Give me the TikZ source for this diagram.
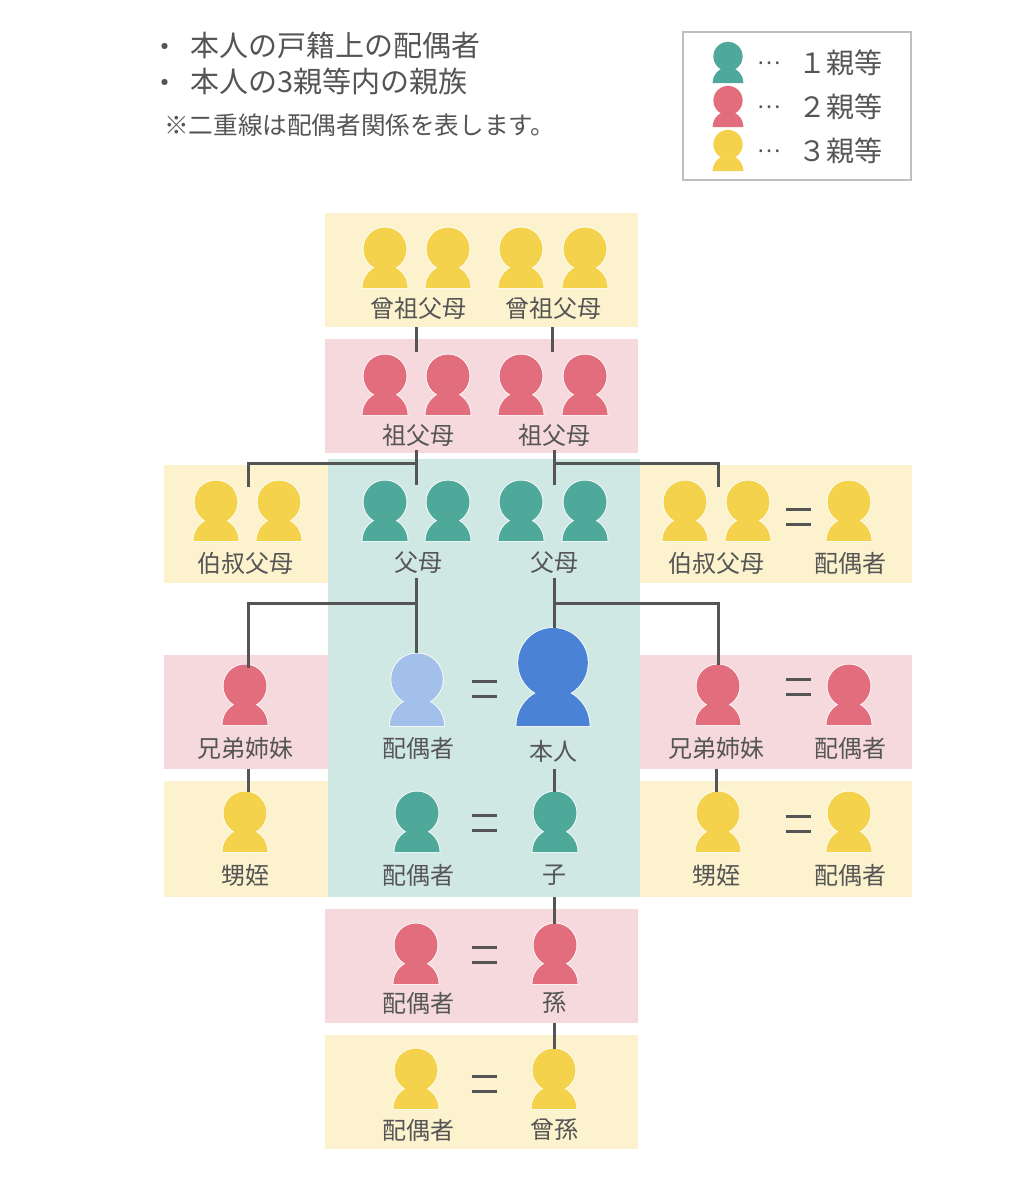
\documentclass[tikz,border=0pt]{standalone}
\usepackage{fontspec}
\setmainfont{Noto Sans CJK JP}
\usepackage{xcolor}
\definecolor{Teal}{HTML}{4FA99B}
\definecolor{Rose}{HTML}{E26D7D}
\definecolor{Amber}{HTML}{F5D24B}
\definecolor{SelfBlue}{HTML}{4A82D6}
\definecolor{SpouseBlue}{HTML}{A3C0EA}
\definecolor{LiteTeal}{HTML}{CFE8E4}
\definecolor{LiteRose}{HTML}{F5D9DD}
\definecolor{LiteAmber}{HTML}{FCF2CD}
\definecolor{Ink}{HTML}{555555}
\tikzset{%
  band/.style={%
    rectangle,%
    inner sep=0,%
    outer sep=0,%
  },
  name_label/.style={%
    color=Ink,%
    inner sep=0,%
    minimum height=30,%
    font={\fontsize{24}{25}\selectfont},%
  },
  head_text/.style={%
    color=Ink,%
    inner sep=0,%
    anchor=west,%
    font={\fontsize{29}{30}\selectfont},%
  },
  note_text/.style={%
    color=Ink,%
    inner sep=0,%
    anchor=west,%
    font={\fontsize{24.6}{25}\selectfont},%
  },
  legend_text/.style={%
    color=Ink,%
    inner sep=0,%
    font={\fontsize{28}{30}\selectfont},%
  },
  kin_path/.style={%
    draw=Ink,%
    line width=3,%
  },
  person/.pic={%
    \coordinate (-top) at (0,-60.5);
    \path [draw=white, line width=1.6]
      (0,-39) circle [radius=21.5]
      (-22.6,0) arc [start angle=180, end angle=360, x radius=22.6, y radius=23] -- cycle;
    \path [pic actions]
      (0,-39) circle [radius=21.5]
      (-22.6,0) arc [start angle=180, end angle=360, x radius=22.6, y radius=23] -- cycle;
  },
  equal_sign/.pic={%
    \draw [kin_path] (-12.5,-7.5) -- (12.5,-7.5);
    \draw [kin_path] (-12.5,7.5) -- (12.5,7.5);
  },
}
\begin{document}
\begin{tikzpicture}[x=1pt, y=-1pt]
    \useasboundingbox [fill=white] (0,0) rectangle (1034,1194);

    % heading
    \node [head_text, anchor=center] (BulletA) at (165,50) {・};
    \node [head_text, anchor=center] (BulletB) at (165,86) {・};
    \node [head_text] (LineA) at (190,45) {本人の戸籍上の配偶者};
    \node [head_text] (LineB) at (190,81) {本人の3親等内の親族};
    \node [note_text] (Note) at (164,125) {※二重線は配偶者関係を表します。};

    % legend
    \node [band, draw=black!25, line width=1.2, minimum width=228, minimum height=148] (Legend) at (797,106) {};
    \pic (KeyA) [fill=Teal, scale=0.68] at (728,83) {person};
    \pic (KeyB) [fill=Rose, scale=0.68] at (728,127) {person};
    \pic (KeyC) [fill=Amber, scale=0.68] at (728,171) {person};
    \node [legend_text, font={\fontsize{22}{24}\selectfont}] (DotsA) at (769,63) {⋯};
    \node [legend_text, font={\fontsize{22}{24}\selectfont}] (DotsB) at (769,107) {⋯};
    \node [legend_text, font={\fontsize{22}{24}\selectfont}] (DotsC) at (769,151) {⋯};
    \node [legend_text] (KeyTextA) at (840,63) {１親等};
    \node [legend_text] (KeyTextB) at (840,107) {２親等};
    \node [legend_text] (KeyTextC) at (840,151) {３親等};

    % bands
    \node [band, fill=LiteAmber, minimum width=313, minimum height=114] (GreatBand) at (481.5,270) {};
    \node [band, fill=LiteRose, minimum width=313, minimum height=114] (GrandBand) at (481.5,396) {};
    \node [band, fill=LiteTeal, minimum width=312, minimum height=438] (CoreBand) at (484,678) {};
    \node [band, fill=LiteAmber, minimum width=164, minimum height=118] (UncleBandL) at (246,524) {};
    \node [band, fill=LiteAmber, minimum width=272, minimum height=118] (UncleBandR) at (776,524) {};
    \node [band, fill=LiteRose, minimum width=164, minimum height=114] (SiblingBandL) at (246,712) {};
    \node [band, fill=LiteRose, minimum width=272, minimum height=114] (SiblingBandR) at (776,712) {};
    \node [band, fill=LiteAmber, minimum width=164, minimum height=116] (NephewBandL) at (246,839) {};
    \node [band, fill=LiteAmber, minimum width=272, minimum height=116] (NephewBandR) at (776,839) {};
    \node [band, fill=LiteRose, minimum width=313, minimum height=114] (GrandchildBand) at (481.5,966) {};
    \node [band, fill=LiteAmber, minimum width=313, minimum height=114] (GreatchildBand) at (481.5,1092) {};

    % people
    \pic (GreatA) [fill=Amber] at (385,288) {person};
    \pic (GreatB) [fill=Amber] at (448,288) {person};
    \pic (GreatC) [fill=Amber] at (521,288) {person};
    \pic (GreatD) [fill=Amber] at (585,288) {person};
    \pic (GrandA) [fill=Rose] at (385,415) {person};
    \pic (GrandB) [fill=Rose] at (448,415) {person};
    \pic (GrandC) [fill=Rose] at (521,415) {person};
    \pic (GrandD) [fill=Rose] at (585,415) {person};
    \pic (UncleA) [fill=Amber] at (216,541) {person};
    \pic (UncleB) [fill=Amber] at (279,541) {person};
    \pic (ParentA) [fill=Teal] at (385,541) {person};
    \pic (ParentB) [fill=Teal] at (448,541) {person};
    \pic (ParentC) [fill=Teal] at (521,541) {person};
    \pic (ParentD) [fill=Teal] at (585,541) {person};
    \pic (UncleC) [fill=Amber] at (685,541) {person};
    \pic (UncleD) [fill=Amber] at (748,541) {person};
    \pic (UncleSpouse) [fill=Amber] at (849,541) {person};
    \pic (SiblingL) [fill=Rose] at (245,725) {person};
    \pic (Spouse) [fill=SpouseBlue, scale=1.2] at (417,726) {person};
    \pic (Self) [fill=SelfBlue, scale=1.62] at (553,726) {person};
    \pic (SiblingR) [fill=Rose] at (718,725) {person};
    \pic (SiblingSpouse) [fill=Rose] at (849,725) {person};
    \pic (NephewL) [fill=Amber] at (245,852) {person};
    \pic (ChildSpouse) [fill=Teal] at (417,852) {person};
    \pic (Child) [fill=Teal] at (555,852) {person};
    \pic (NephewR) [fill=Amber] at (718,852) {person};
    \pic (NephewSpouse) [fill=Amber] at (849,852) {person};
    \pic (GrandchildSpouse) [fill=Rose] at (416,984) {person};
    \pic (Grandchild) [fill=Rose] at (555,984) {person};
    \pic (GreatchildSpouse) [fill=Amber] at (416,1109) {person};
    \pic (Greatchild) [fill=Amber] at (554,1109) {person};

    % labels
    \node [name_label] (GreatTextA) at (418,308) {曾祖父母};
    \node [name_label] (GreatTextB) at (553,308) {曾祖父母};
    \node [name_label] (GrandTextA) at (418,435) {祖父母};
    \node [name_label] (GrandTextB) at (554,435) {祖父母};
    \node [name_label] (UncleTextL) at (245,563) {伯叔父母};
    \node [name_label] (ParentTextA) at (418,563) {父母};
    \node [name_label] (ParentTextB) at (554,563) {父母};
    \node [name_label] (UncleTextR) at (716,563) {伯叔父母};
    \node [name_label] (UncleSpouseText) at (850,563) {配偶者};
    \node [name_label] (SiblingTextL) at (245,748) {兄弟姉妹};
    \node [name_label] (SpouseText) at (418,748) {配偶者};
    \node [name_label] (SelfText) at (553,751) {本人};
    \node [name_label] (SiblingTextR) at (716,748) {兄弟姉妹};
    \node [name_label] (SiblingSpouseText) at (850,748) {配偶者};
    \node [name_label] (NephewTextL) at (245,875) {甥姪};
    \node [name_label] (ChildSpouseText) at (418,875) {配偶者};
    \node [name_label] (ChildText) at (554,875) {子};
    \node [name_label] (NephewTextR) at (716,875) {甥姪};
    \node [name_label] (NephewSpouseText) at (850,875) {配偶者};
    \node [name_label] (GrandchildSpouseText) at (418,1003) {配偶者};
    \node [name_label] (GrandchildText) at (554,1003) {孫};
    \node [name_label] (GreatchildSpouseText) at (418,1130) {配偶者};
    \node [name_label] (GreatchildText) at (554,1130) {曾孫};

    % spouse marks
    \pic (EqUncle) at (798,517) {equal_sign};
    \pic (EqSelf) at (484,689) {equal_sign};
    \pic (EqSibling) at (798,687) {equal_sign};
    \pic (EqChild) at (484,822.5) {equal_sign};
    \pic (EqNephew) at (798,823.5) {equal_sign};
    \pic (EqGrandchild) at (484,954.5) {equal_sign};
    \pic (EqGreatchild) at (484,1083.5) {equal_sign};

    % free ends of the family lines
    \coordinate (GrandJoinA) at (416,352);
    \coordinate (GrandJoinB) at (552,352);
    \coordinate (ParentJoinA) at (416,485);
    \coordinate (ParentJoinB) at (554,485);
    \coordinate (UncleJoinL) at (248,487);
    \coordinate (UncleJoinR) at (718,487);
    \coordinate (ParentBarA) at (416,463);
    \coordinate (ParentBarB) at (554,463);
    \coordinate (SiblingBarA) at (416,603);
    \coordinate (SiblingBarB) at (554,603);
    \coordinate (SiblingJoinL) at (248,668);
    \coordinate (NephewJoinR) at (716,792);

    \draw [kin_path] (GreatBand.south -| GrandJoinA) -- (GrandJoinA);
    \draw [kin_path] (GreatBand.south -| GrandJoinB) -- (GrandJoinB);
    \draw [kin_path] (GrandTextA.south -| ParentJoinA) -- (ParentJoinA);
    \draw [kin_path] (GrandTextB.south -| ParentJoinB) -- (ParentJoinB);
    \draw [kin_path] (ParentBarA) -| (UncleJoinL);
    \draw [kin_path] (ParentBarB) -| (UncleJoinR);
    \draw [kin_path] (ParentTextA.south -| SiblingBarA) -- (Spouse-top -| SiblingBarA);
    \draw [kin_path] (ParentTextB.south -| SiblingBarB) -- (Self-top -| SiblingBarB);
    \draw [kin_path] (SiblingBarA) -| (SiblingJoinL);
    \draw [kin_path] (SiblingBarB) -| (SiblingR-top);
    \draw [kin_path] (SiblingBandL.south -| SiblingJoinL) -- (NephewL-top -| SiblingJoinL);
    \draw [kin_path] (SiblingBandR.south -| NephewJoinR) -- (NephewJoinR);
    \draw [kin_path] (SiblingBandL.south -| SiblingBarB) -- (Child-top -| SiblingBarB);
    \draw [kin_path] (CoreBand.south -| SiblingBarB) -- (Grandchild-top -| SiblingBarB);
    \draw [kin_path] (GrandchildBand.south -| SiblingBarB) -- (Greatchild-top -| SiblingBarB);
  \end{tikzpicture}
\end{document}
